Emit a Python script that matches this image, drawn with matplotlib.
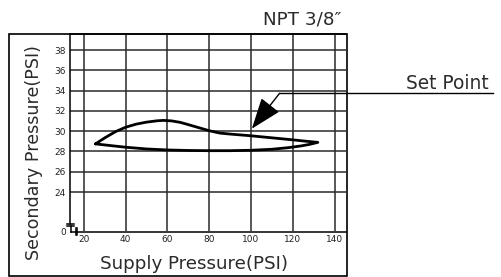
import matplotlib
matplotlib.use("Agg")
import matplotlib.pyplot as plt
from matplotlib.lines import Line2D
from matplotlib.patches import Rectangle

plt.rcParams['font.family'] = ['DejaVu Sans']

# data
upper_x = [25.5, 30, 35, 40, 45, 50, 55, 58, 62, 66, 70, 75, 80, 85, 90, 100, 110, 120, 126, 132]
upper_y = [28.75, 29.35, 29.95, 30.4, 30.7, 30.9, 31.03, 31.07, 31.02, 30.88, 30.65, 30.35, 30.05, 29.82, 29.72, 29.55, 29.35, 29.15, 29.02, 28.9]
lower_x = [132, 128, 124, 118, 110, 100, 90, 80, 70, 60, 50, 40, 32, 25.5]
lower_y = [28.9, 28.7, 28.55, 28.38, 28.22, 28.12, 28.08, 28.08, 28.1, 28.15, 28.25, 28.42, 28.6, 28.75]
xticks = [20, 40, 60, 80, 100, 120, 140]
yticks = [24, 26, 28, 30, 32, 34, 36, 38]
y_zero = 20.15
arrow_tip = (100.4, 30.25)
arrow_tail = (113.7, 33.75)

W, H = 502, 277
fig = plt.figure(figsize=(W / 100, H / 100), dpi=100)
renderer = fig.canvas.get_renderer()

def px(x, y):
    return (x / W, 1 - y / H)

def fit_text(cx, cy, s, length, rotation=0, va='baseline', shrink=0.97):
    t = fig.text(*px(cx, cy), s, ha='center', va=va, rotation=rotation,
                 fontsize=12, color='#2b2b2b')
    bb = t.get_window_extent(renderer)
    cur = bb.height if rotation else bb.width
    t.set_fontsize(12 * length / cur * shrink)
    return t

l, r, t, b = 70, 346, 34, 231
ax = fig.add_axes([l / W, 1 - b / H, (r - l) / W, (b - t) / H])
ax.set_xlim(13.3, 145.5)
ax.set_ylim(y_zero, 39.6)

for xv in xticks:
    ax.axvline(xv, color='#2a2a2a', lw=1.1, zorder=1)
for yv in yticks:
    ax.axhline(yv, color='#2a2a2a', lw=1.1, zorder=1)

ax.plot(upper_x + lower_x, upper_y + lower_y, color='black', lw=2.0,
        solid_joinstyle='round', solid_capstyle='round', zorder=3)

ax.set_xticks(xticks)
ax.set_xticklabels([str(v) for v in xticks])
ax.set_yticks([y_zero] + yticks)
ax.set_yticklabels(['0'] + [str(v) for v in yticks])
ax.tick_params(length=0, labelsize=6.5, pad=3, colors='#222222')

for s in ax.spines.values():
    s.set_visible(False)
ax.spines['top'].set_visible(True)
ax.spines['top'].set_linewidth(1.1)

# left spine and bottom spine with break marks (figure pixel coords)
lw = 1.1
segs = [
    [(70, 34), (70, 223.5)],
    [(67, 223.5), (74, 223.5)],
    [(67, 226), (74, 226)],
    [(71, 226), (71, 231.5)],
    [(71, 231.5), (346, 231.5)],
    [(75.5, 228), (75.5, 234.5)],
    [(77.5, 228), (77.5, 234.5)],
]
for seg in segs:
    (x0, y0), (x1, y1) = seg
    p0, p1 = px(x0, y0), px(x1, y1)
    fig.add_artist(Line2D([p0[0], p1[0]], [p0[1], p1[1]], color='black', lw=lw,
                          transform=fig.transFigure))

# outer frame
fx0, fy0 = px(9, 276)
fx1, fy1 = px(346.5, 34)
fig.add_artist(Rectangle((fx0, fy0), fx1 - fx0, fy1 - fy0, fill=False,
                         edgecolor='black', lw=1.2, transform=fig.transFigure))

# labels
fit_text(194, 269, 'Supply Pressure(PSI)', 194)
fit_text(34, 152.5, 'Secondary Pressure(PSI)', 219, rotation=90, va='center')
fit_text(302.5, 24, 'NPT 3/8″', 81)
fit_text(447.5, 89.3, 'Set Point', 85)

# annotation arrow and leader
ax.annotate('', xy=arrow_tip, xytext=arrow_tail,
            arrowprops=dict(arrowstyle='-|>,head_length=1.5,head_width=0.55', color='black', lw=1.0,
                            mutation_scale=13, shrinkA=0, shrinkB=0),
            annotation_clip=False, zorder=4)
tail_fig = fig.transFigure.inverted().transform(ax.transData.transform(arrow_tail))
end = px(493, 0)
fig.add_artist(Line2D([tail_fig[0], end[0]], [tail_fig[1], tail_fig[1]], color='black', lw=1.0,
                      transform=fig.transFigure))

fig.savefig('out.png', dpi=100)
